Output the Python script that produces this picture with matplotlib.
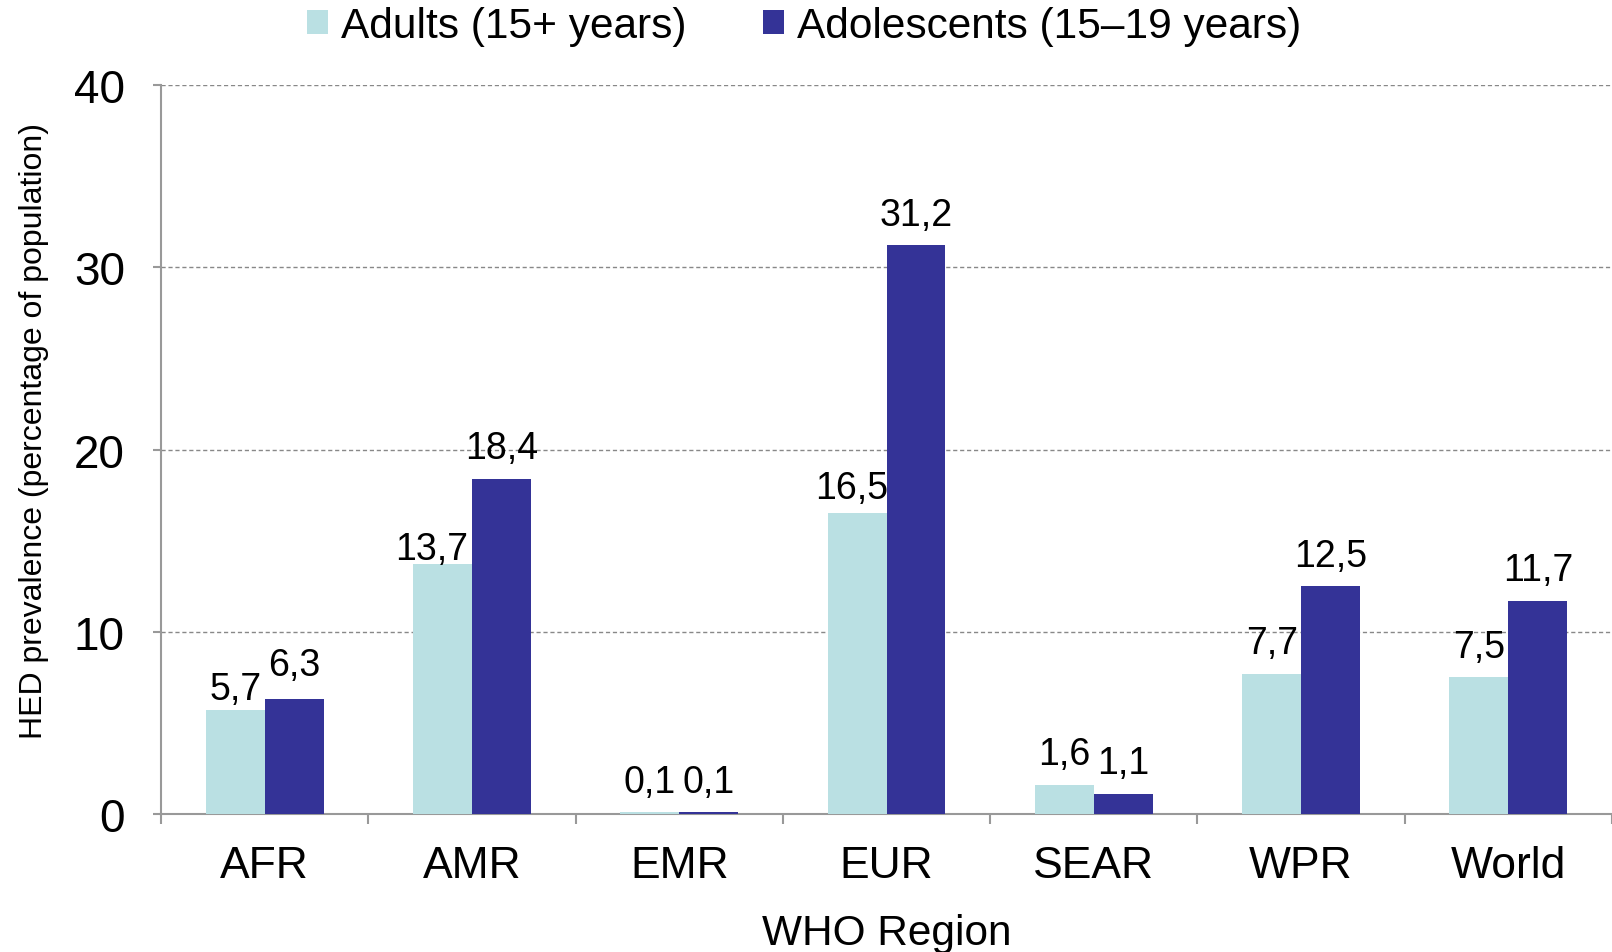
import matplotlib
matplotlib.use("Agg")
import matplotlib.pyplot as plt
import numpy as np

regions = ["AFR", "AMR", "EMR", "EUR", "SEAR", "WPR", "World"]
adults = [5.7, 13.7, 0.1, 16.5, 1.6, 7.7, 7.5]
adolescents = [6.3, 18.4, 0.1, 31.2, 1.1, 12.5, 11.7]
series_names = ["Adults (15+ years)", "Adolescents (15\u201319 years)"]
yticks = [0, 10, 20, 30, 40]

plt.rcParams['font.family'] = ['Liberation Sans', 'DejaVu Sans']

fig = plt.figure(figsize=(16.12, 9.53), dpi=100)
W, H = 1612, 953
left, right, top, bottom = 161, 1612, 86, 815
ax = fig.add_axes([left / W, 1 - bottom / H, (right - left) / W, (bottom - top) / H])

x = np.arange(len(regions))
bw = 0.284
c1, c2 = "#BAE0E3", "#343397"
b1 = ax.bar(x - bw / 2, adults, bw, color=c1, label=series_names[0], zorder=3)
b2 = ax.bar(x + bw / 2, adolescents, bw, color=c2, label=series_names[1], zorder=3)

def fmt(v):
    return f"{v:.1f}".replace(".", ",")

# label placement tweaks (series index, category index) -> (dx, dy) in points
tweaks = {(0, 0): (0, 2), (1, 0): (0, 12), (0, 1): (-8, -2), (0, 3): (-4, 5)}

for si, (bars, vals) in enumerate(((b1, adults), (b2, adolescents))):
    for ci, (r, v) in enumerate(zip(bars, vals)):
        dx, dy = tweaks.get((si, ci), (0, 9))
        ax.annotate(fmt(v), (r.get_x() + r.get_width() / 2, v), xytext=(dx, dy),
                    textcoords="offset points", ha="center", va="bottom", fontsize=27)

ax.set_xlim(-0.5, len(regions) - 0.5)
ax.set_ylim(0, 40)
ax.set_yticks(yticks)
ax.set_yticklabels([str(t) for t in yticks], fontsize=33)
ax.set_xticks(x)
ax.set_xticklabels(regions, fontsize=32)
ax.set_xticks(np.arange(len(regions) + 1) - 0.5, minor=True)
ax.tick_params(axis="x", which="major", length=0, pad=22)
ax.tick_params(axis="x", which="minor", length=7, color="#999999", width=1.5)
ax.tick_params(axis="y", length=6, color="#999999", width=1.5, pad=20)

ax.grid(axis="y", linestyle=(0, (3, 2)), color="#888888", linewidth=1, zorder=0)
for s in ("top", "right"):
    ax.spines[s].set_visible(False)
for s in ("left", "bottom"):
    ax.spines[s].set_color("#999999")
    ax.spines[s].set_linewidth(1.5)

ax.set_xlabel("WHO Region", fontsize=30.5, labelpad=20)
ax.set_ylabel("HED prevalence (percentage of population)", fontsize=23, labelpad=18)
ax.yaxis.label.set_y(0.527)

fig.legend(handles=[b1, b2], labels=series_names, loc="center", ncol=2,
           bbox_to_anchor=(804 / W, 1 - 27 / H), frameon=False, fontsize=30.5,
           handlelength=0.5, handleheight=0.5, handletextpad=0.3, columnspacing=1.8)

fig.savefig("out.png", dpi=100)
